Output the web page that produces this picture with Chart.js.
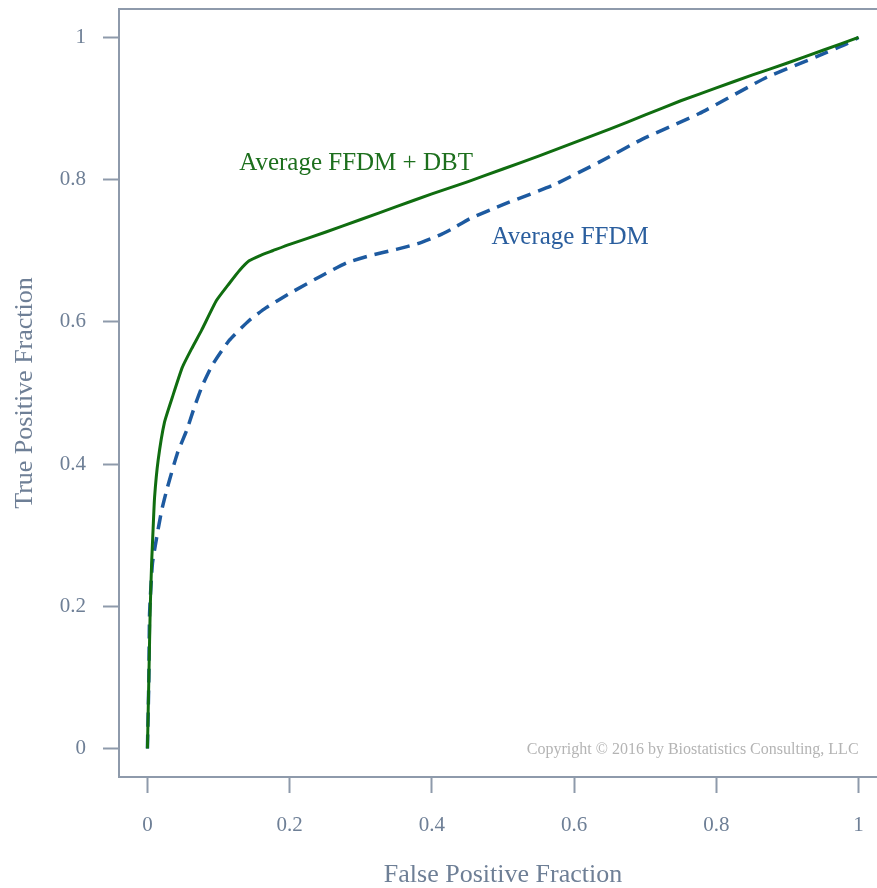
<!DOCTYPE html>
<html>
<head>
<meta charset="utf-8">
<script src="https://cdn.jsdelivr.net/npm/chart.js@4/dist/chart.umd.min.js"></script>
<style>
  html, body { margin: 0; padding: 0; background: #ffffff; overflow: hidden; }
  #wrap { width: 890px; height: 888px; }
</style>
</head>
<body>
<div id="wrap"><canvas id="c" width="890" height="888"></canvas></div>
<script>
// ---- data ----
const tickValues = [0, 0.2, 0.4, 0.6, 0.8, 1];
const tickLabels = ["0", "0.2", "0.4", "0.6", "0.8", "1"];

const dbtFPF = [0, 0.002, 0.004, 0.006, 0.008, 0.010, 0.015, 0.024, 0.035, 0.049, 0.062, 0.076, 0.097, 0.115, 0.130, 0.143, 0.160, 0.176, 0.200, 0.250, 0.300, 0.350, 0.400, 0.450, 0.500, 0.550, 0.600, 0.650, 0.700, 0.750, 0.800, 0.850, 0.900, 0.950, 1];
const dbtTPF = [0, 0.100, 0.200, 0.264, 0.310, 0.353, 0.405, 0.459, 0.494, 0.536, 0.562, 0.588, 0.630, 0.654, 0.673, 0.686, 0.694, 0.700, 0.709, 0.726, 0.744, 0.762, 0.780, 0.797, 0.815, 0.833, 0.852, 0.871, 0.891, 0.911, 0.929, 0.947, 0.964, 0.982, 1];

const ffdmFPF = [0, 0.002, 0.003, 0.007, 0.013, 0.020, 0.028, 0.042, 0.055, 0.066, 0.077, 0.091, 0.115, 0.143, 0.167, 0.200, 0.245, 0.280, 0.312, 0.350, 0.380, 0.411, 0.429, 0.453, 0.500, 0.570, 0.636, 0.696, 0.776, 0.871, 0.941, 0.983, 1];
const ffdmTPF = [0, 0.100, 0.190, 0.260, 0.297, 0.335, 0.367, 0.415, 0.447, 0.480, 0.510, 0.539, 0.574, 0.602, 0.620, 0.640, 0.665, 0.683, 0.693, 0.702, 0.710, 0.722, 0.731, 0.745, 0.765, 0.792, 0.825, 0.857, 0.893, 0.944, 0.973, 0.991, 1];

const seriesNames = ["Average FFDM + DBT", "Average FFDM"];
const copyrightText = "Copyright \u00A9 2016 by Biostatistics Consulting, LLC";

// ---- styling ----
const SERIF = "'Liberation Serif', 'Times New Roman', serif";
const GREEN = "#106d10";
const BLUE = "#1d5aa0";
const AXIS = "#8e9aab";
const TEXT = "#6e7f96";

const toPoints = (xs, ys) => xs.map((x, i) => ({ x: x, y: ys[i] }));

const labelPlugin = {
  id: "labels",
  afterDatasetsDraw(chart) {
    const { ctx, scales: { x, y } } = chart;
    ctx.save();
    ctx.textBaseline = "alphabetic";
    ctx.font = "25px " + SERIF;
    ctx.textAlign = "left";
    ctx.fillStyle = "#1d6f1d";
    ctx.fillText(seriesNames[0], x.getPixelForValue(0.129), y.getPixelForValue(0.813));
    ctx.fillStyle = "#2a5e9e";
    ctx.fillText(seriesNames[1], x.getPixelForValue(0.484), y.getPixelForValue(0.710));
    ctx.font = "16px " + SERIF;
    ctx.fillStyle = "#b4b4b4";
    ctx.textAlign = "right";
    ctx.fillText(copyrightText, x.getPixelForValue(1.0), y.getPixelForValue(-0.007));
    ctx.restore();
  }
};

const boxPlugin = {
  id: "box",
  afterDraw(chart) {
    const { ctx, chartArea: a } = chart;
    ctx.save();
    ctx.strokeStyle = AXIS;
    ctx.lineWidth = 2;
    ctx.strokeRect(a.left, a.top, a.right - a.left, a.bottom - a.top);
    ctx.restore();
  }
};

const fixedTicks = (scale) => {
  scale.ticks = tickValues.map(v => ({ value: v }));
};
const noPad = (s) => { s.paddingTop = 0; s.paddingBottom = 0; s.paddingLeft = 0; s.paddingRight = 0; };

new Chart(document.getElementById("c"), {
  type: "scatter",
  data: {
    datasets: [
      {
        label: seriesNames[0],
        data: toPoints(dbtFPF, dbtTPF),
        showLine: true,
        borderColor: GREEN,
        borderWidth: 3,
        pointRadius: 0,
        tension: 0.15,
        fill: false
      },
      {
        label: seriesNames[1],
        data: toPoints(ffdmFPF, ffdmTPF),
        showLine: true,
        borderColor: BLUE,
        borderWidth: 3.5,
        borderDash: [14, 8],
        pointRadius: 0,
        tension: 0.15,
        fill: false
      }
    ]
  },
  options: {
    responsive: false,
    animation: false,
    devicePixelRatio: 1,
    layout: { padding: { left: 0, top: 9, right: 3, bottom: 0 } },
    plugins: {
      legend: { display: false },
      tooltip: { enabled: false }
    },
    scales: {
      x: {
        type: "linear",
        min: -0.04,
        max: 1.04,
        afterBuildTicks: fixedTicks,
        afterFit: (s) => { s.height = 111; noPad(s); },
        border: { display: false },
        grid: {
          drawOnChartArea: false,
          drawTicks: true,
          tickLength: 16,
          tickWidth: 2,
          tickColor: AXIS
        },
        ticks: {
          autoSkip: false,
          maxRotation: 0,
          padding: 20,
          color: TEXT,
          font: { family: SERIF, size: 21 },
          callback: (v) => tickLabels[tickValues.indexOf(v)]
        },
        title: {
          display: true,
          text: "False Positive Fraction",
          color: TEXT,
          font: { family: SERIF, size: 26, lineHeight: 1 },
          padding: { top: 0, bottom: 0 }
        }
      },
      y: {
        type: "linear",
        min: -0.04,
        max: 1.04,
        afterBuildTicks: fixedTicks,
        afterFit: (s) => { s.width = 119; noPad(s); },
        border: { display: false },
        grid: {
          drawOnChartArea: false,
          drawTicks: true,
          tickLength: 16,
          tickWidth: 2,
          tickColor: AXIS
        },
        ticks: {
          autoSkip: false,
          padding: 17,
          color: TEXT,
          font: { family: SERIF, size: 21 },
          callback: (v) => tickLabels[tickValues.indexOf(v)]
        },
        title: {
          display: true,
          text: "True Positive Fraction",
          color: TEXT,
          font: { family: SERIF, size: 26, lineHeight: 1 },
          padding: { top: 12, bottom: 0 }
        }
      }
    }
  },
  plugins: [boxPlugin, labelPlugin]
});
</script>
</body>
</html>
